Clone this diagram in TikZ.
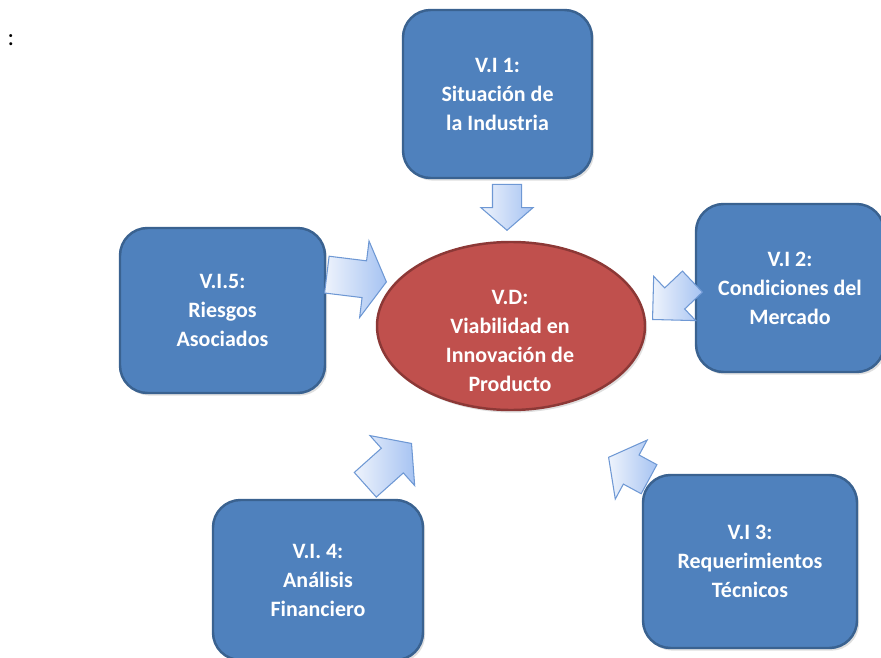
\documentclass[tikz,border=0pt]{standalone}
\usepackage{fontspec}
\setmainfont{Carlito}
\usetikzlibrary{shapes.geometric,shapes.arrows,shadows}

\definecolor{boxblue}{HTML}{4F81BD}
\definecolor{boxedge}{HTML}{3A6290}
\definecolor{vdred}{HTML}{C0504D}
\definecolor{vdedge}{HTML}{8C3836}
\definecolor{arrowlight}{HTML}{EEF3FC}
\definecolor{arrowblue}{HTML}{A6C3F2}
\definecolor{arrowedge}{HTML}{6E98D4}

\newcommand{\px}{0.02cm}

\tikzset{
	vtext/.style={text=white, font=\fontsize{12.5}{16.5}\selectfont\bfseries, align=center},
	varbox/.style={vtext, draw=boxedge, fill=boxblue, line width=1.4pt, rounded corners=0.55cm,
		drop shadow={opacity=0.25, shadow xshift=1.2pt, shadow yshift=-1.5pt}},
	vdshape/.style={ellipse, draw=vdedge, fill=vdred, line width=1.4pt,
		drop shadow={opacity=0.25, shadow xshift=1.2pt, shadow yshift=-1.5pt}},
	blockarrow/.style={single arrow, draw=arrowedge, line width=0.6pt, left color=arrowlight, right color=arrowblue,
		inner xsep=0pt, inner ysep=16*\px, single arrow head extend=17*\px, single arrow tip angle=105,
		minimum height=#1*\px, anchor=tip}
}

\begin{document}
\begin{tikzpicture}[x=\px, y=-\px]
\useasboundingbox (0,0) rectangle (881,658);

\node[font=\fontsize{14}{16.5}\selectfont] (colon) at (11,40) {:};

% DEPENDENT VARIABLE

\node[vdshape, minimum width=268*\px, minimum height=168*\px] (vd) at (511,326) {};
\node[vtext] (vdtext) at (510,341) {V.D:\\Viabilidad en\\Innovación de\\Producto};

% INDEPENDENT VARIABLES

\node[varbox, minimum width=189*\px, minimum height=168*\px] (vi1) at (497.5,94) {V.I 1:\\Situación de\\la Industria};
\node[varbox, minimum width=188*\px, minimum height=168*\px] (vi2) at (790,288) {V.I 2:\\Condiciones del\\Mercado};
\node[varbox, minimum width=214*\px, minimum height=173*\px] (vi3) at (750,561.5) {V.I 3:\\Requerimientos\\Técnicos};
\node[varbox, minimum width=210*\px, minimum height=160*\px] (vi4) at (318,580) {V.I. 4:\\Análisis\\Financiero};
\node[varbox, minimum width=205*\px, minimum height=165*\px] (vi5) at (222.5,310.5) {V.I.5:\\Riesgos\\Asociados};

% ARROWS

\node[blockarrow=46, inner ysep=14*\px, single arrow head extend=11.5*\px, single arrow tip angle=98, rotate=-90] (a1) at (507,231) {};
\node[blockarrow=55, inner ysep=14*\px, single arrow head extend=16*\px, single arrow tip angle=90, rotate=-136.5] (a2) at (652,320) {};
\node[blockarrow=46, rotate=151.6] (a3) at (608,457) {};
\node[blockarrow=62, rotate=41.8] (a4) at (412,443) {};
\node[blockarrow=60, inner ysep=18*\px, single arrow head extend=20*\px, single arrow tip angle=120, rotate=-7] (a5) at (387,282) {};

\end{tikzpicture}
\end{document}
